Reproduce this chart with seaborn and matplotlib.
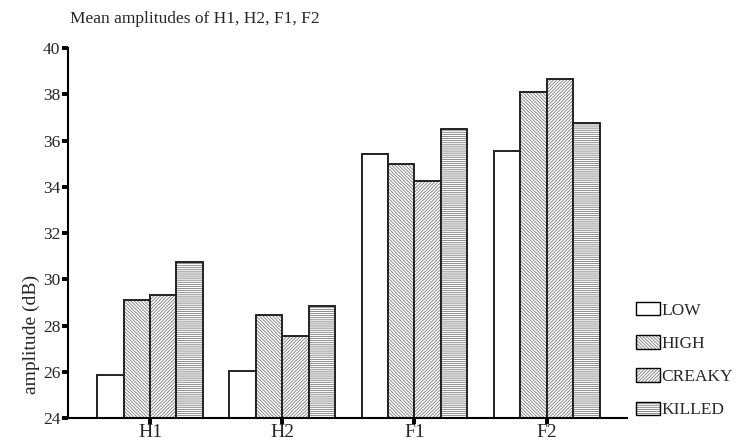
import matplotlib
matplotlib.use("Agg")
import matplotlib.pyplot as plt
from matplotlib.colors import to_rgba
from matplotlib.patches import Patch
import seaborn as sns
import pandas as pd

categories = ["H1", "H2", "F1", "F2"]
conditions = ["LOW", "HIGH", "CREAKY", "KILLED"]
low = [25.88, 26.05, 35.4, 35.55]
high = [29.1, 28.45, 35.0, 38.1]
creaky = [29.32, 27.55, 34.25, 38.65]
killed = [30.75, 28.85, 36.5, 36.75]
yticks = [24, 26, 28, 30, 32, 34, 36, 38, 40]

rows = []
for cond, vals in zip(conditions, [low, high, creaky, killed]):
    for cat, v in zip(categories, vals):
        rows.append({"cat": cat, "cond": cond, "val": v})
df = pd.DataFrame(rows)

sns.set_style("ticks")
plt.rcParams["font.family"] = ["Liberation Serif", "DejaVu Serif"]
plt.rcParams["hatch.linewidth"] = 0.6

fig = plt.figure(figsize=(7.39, 4.43), dpi=100)
ax = fig.add_axes([0.092, 0.0564, 0.756, 0.8352])

palette = {c: "white" for c in conditions}
sns.barplot(data=df, x="cat", y="val", hue="cond", order=categories,
            hue_order=conditions, palette=palette, width=0.8,
            edgecolor="black", linewidth=1.4, ax=ax, legend=False,
            errorbar=None, saturation=1)

hatches = ["", "\\" * 10, "/" * 10, "-" * 8]
hcol = to_rgba("#7a7a7a")
for cont, h in zip(ax.containers, hatches):
    for p in cont.patches:
        p.set_hatch(h)
        p.set_edgecolor("#222222")
        p._hatch_color = hcol

ax.set_ylim(24, 40)
ax.set_xlim(-0.62, 3.605)
ax.set_yticks(yticks)
ax.set_yticklabels([str(t) for t in yticks], fontsize=12.5)
ax.tick_params(axis="both", direction="out", length=4, width=2.8, color="black",
               pad=1.5, left=True, bottom=True)
ax.tick_params(axis="x", labelsize=14, pad=0)
for s in ["top", "right"]:
    ax.spines[s].set_visible(False)
for s in ["left", "bottom"]:
    ax.spines[s].set_linewidth(1.5)
    ax.spines[s].set_color("black")
ax.set_xlabel("")
ax.set_ylabel("")
fig.text(0.042, 0.244, "amplitude (dB)", fontsize=14, rotation=90,
         ha="center", va="center")
fig.text(0.095, 0.958, "Mean amplitudes of H1, H2, F1, F2", fontsize=12.5,
         ha="left", va="center")

handles = []
for h in hatches:
    p = Patch(facecolor="white", edgecolor="black", hatch=h, linewidth=1.0)
    p._hatch_color = hcol
    handles.append(p)
fig.legend(handles, conditions, loc="upper left", bbox_to_anchor=(0.86, 0.318),
           frameon=False, fontsize=12.5, handlelength=1.4, handleheight=0.8,
           handletextpad=0.1, labelspacing=0.95, borderaxespad=0, borderpad=0)

fig.savefig("out.png", dpi=100)
